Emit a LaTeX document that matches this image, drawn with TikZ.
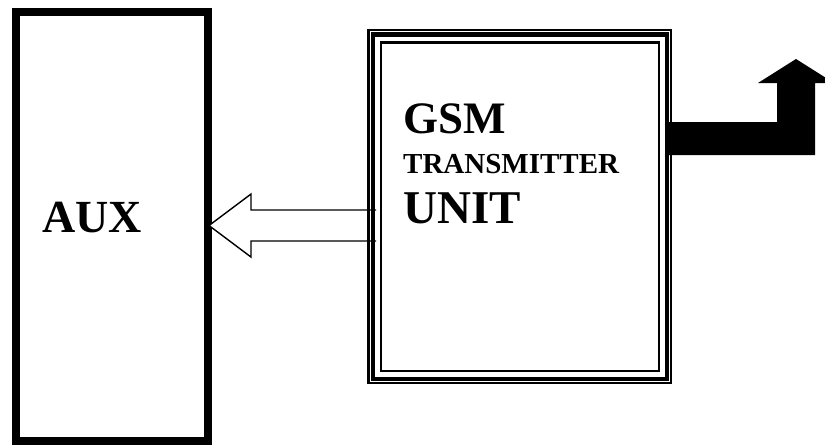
\documentclass[tikz,border=0pt]{standalone}
\usepackage{fontspec}
\setmainfont{Liberation Serif}
\usetikzlibrary{positioning,calc}

\tikzset{
  auxbox/.style={draw, line width=8pt, inner sep=0pt},
  gsmbox/.style={draw, line width=2.5pt, inner sep=0pt},
  blocktext/.style={inner sep=0pt, anchor=base west},
}

\begin{document}
\begin{tikzpicture}[x=1pt, y=-1pt]
    \useasboundingbox (0,0) rectangle (825,445);
    \clip (0,0) rectangle (825,445);

    % aux block
    \node[auxbox, minimum width=192pt, minimum height=429pt] (aux) at (112,226.5) {};
    \node[blocktext, font=\fontsize{46}{46}\selectfont\bfseries] (auxtxt) at (42,232) {AUX};

    % hollow arrow gsm to aux
    \draw[line width=1.4pt, fill=white] (376,210) -- (251,210) -- (251,194) -- (209,225.5)
        -- (251,257) -- (251,241) -- (376,241);

    % gsm block, triple frame
    \node[gsmbox, minimum width=302.5pt, minimum height=353pt] (gsm) at (519.75,206.5) {};
    \draw[line width=4.5pt] ($(gsm.north west)+(5.5,5.5)$) rectangle ($(gsm.south east)+(-5.5,-5.5)$);
    \draw[line width=2.5pt] ($(gsm.north west)+(13.5,13.5)$) rectangle ($(gsm.south east)+(-13.5,-13.5)$);

    \node[blocktext, font=\fontsize{45}{45}\selectfont\bfseries] (gsmtxt) at (403,133) {GSM};
    \node[blocktext, font=\fontsize{29}{29}\selectfont\bfseries] (txtxt) at (403,173) {TRANSMITTER};
    \node[blocktext, font=\fontsize{47}{47}\selectfont\bfseries] (unittxt) at (403,223) {UNIT};

    % bent black arrow out of gsm
    \fill (665,122) -- (777,122) -- (777,83) -- (758,83) -- (796,59) -- (834,83)
        -- (815,83) -- (815,155) -- (665,155) -- cycle;
\end{tikzpicture}
\end{document}
